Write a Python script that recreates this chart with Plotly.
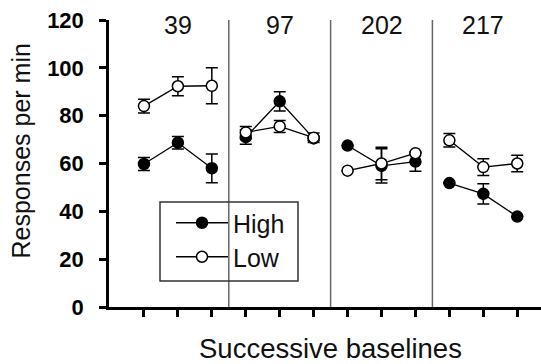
import plotly.graph_objects as go

subjects = ["39", "97", "202", "217"]
sessions_per_subject = 3
x_pos = list(range(1, 13))

high_mean = [59.8, 68.7, 58.0, 71.0, 86.0, 70.5, 67.5, 59.0, 60.8, 51.8, 47.3, 37.8]
high_err = [2.7, 2.6, 6.0, 3.0, 4.0, 1.0, 0.0, 7.2, 4.0, 0.0, 4.2, 0.0]
low_mean = [84.0, 92.3, 92.5, 73.0, 75.5, 70.8, 57.0, 60.0, 64.3, 69.7, 58.5, 60.0]
low_err = [2.9, 4.0, 7.5, 2.5, 2.5, 2.0, 0.0, 6.8, 0.0, 2.8, 3.5, 3.5]

FONT = "Liberation Sans, Arial, sans-serif"

fig = go.Figure()

def add_series(name, means, errs, fill, legend_id):
    for s in range(len(subjects)):
        idx = slice(s * sessions_per_subject, (s + 1) * sessions_per_subject)
        fig.add_trace(go.Scatter(
            x=x_pos[idx], y=means[idx],
            mode="lines+markers",
            name=name,
            legendgroup=name,
            legend=legend_id,
            showlegend=(s == 0),
            line=dict(color="black", width=1.3),
            marker=dict(symbol="circle", size=11, color=fill,
                        line=dict(color="black", width=1.5)),
            error_y=dict(type="data", array=errs[idx], visible=True,
                         color="black", thickness=1.5, width=6),
        ))

add_series("High", high_mean, high_err, "black", "legend")
add_series("Low", low_mean, low_err, "white", "legend2")

shapes = []
for s in range(1, len(subjects)):
    xb = s * sessions_per_subject + 0.5
    shapes.append(dict(type="line", xref="x", yref="y", x0=xb, x1=xb, y0=0, y1=120,
                       line=dict(color="#666666", width=1.5)))

# legend frame
L, R, T, B = 109, 541, 20, 307
W, H = R - L, B - T
shapes.append(dict(type="rect", xref="paper", yref="paper",
                   x0=(160 - L) / W, x1=(298 - L) / W,
                   y0=(B - 281) / H, y1=(B - 202) / H,
                   line=dict(color="#333333", width=1.5), fillcolor="rgba(0,0,0,0)"))

annotations = []
for s, lab in enumerate(subjects):
    annotations.append(dict(x=s * sessions_per_subject + 2, y=118, xref="x", yref="y",
                            text=lab, showarrow=False, yanchor="middle",
                            font=dict(family=FONT, size=25, color="#111111")))
annotations.append(dict(x=(20 - L) / W, y=(B - 151.5) / H, xref="paper", yref="paper",
                        text="Responses per min", textangle=-90, showarrow=False,
                        xanchor="center", yanchor="middle",
                        font=dict(family=FONT, size=25, color="#111111")))
annotations.append(dict(x=(330 - L) / W, y=(B - 348) / H, xref="paper", yref="paper",
                        text="Successive baselines", showarrow=False,
                        xanchor="center", yanchor="middle",
                        font=dict(family=FONT, size=27.5, color="#111111")))

leg_common = dict(xanchor="left", yanchor="top", bgcolor="rgba(0,0,0,0)", borderwidth=0,
                  font=dict(family=FONT, size=25, color="#111111"), itemwidth=52)

fig.update_layout(
    width=541, height=364,
    margin=dict(l=L, r=0, t=T, b=364 - B),
    paper_bgcolor="white", plot_bgcolor="white",
    font=dict(family=FONT, color="black"),
    shapes=shapes,
    annotations=annotations,
    showlegend=True,
    legend=dict(x=(171 - L) / W, y=(B - 200) / H, **leg_common),
    legend2=dict(x=(171 - L) / W, y=(B - 234) / H, **leg_common),
    xaxis=dict(range=[-0.03, 12.7], tickvals=x_pos, ticktext=[""] * len(x_pos),
               showline=True, linecolor="black", linewidth=2.5,
               ticks="outside", ticklen=7, tickwidth=2.5, tickcolor="black",
               showgrid=False, zeroline=False),
    yaxis=dict(range=[0, 120], tickvals=[0, 20, 40, 60, 80, 100, 120],
               showline=True, linecolor="black", linewidth=2.5,
               ticks="outside", ticklen=7, tickwidth=2.5, tickcolor="black",
               tickfont=dict(family=FONT, size=22, weight="bold", color="black"),
               ticklabelstandoff=11,
               showgrid=False, zeroline=False),
)

fig.write_html("out.html")
